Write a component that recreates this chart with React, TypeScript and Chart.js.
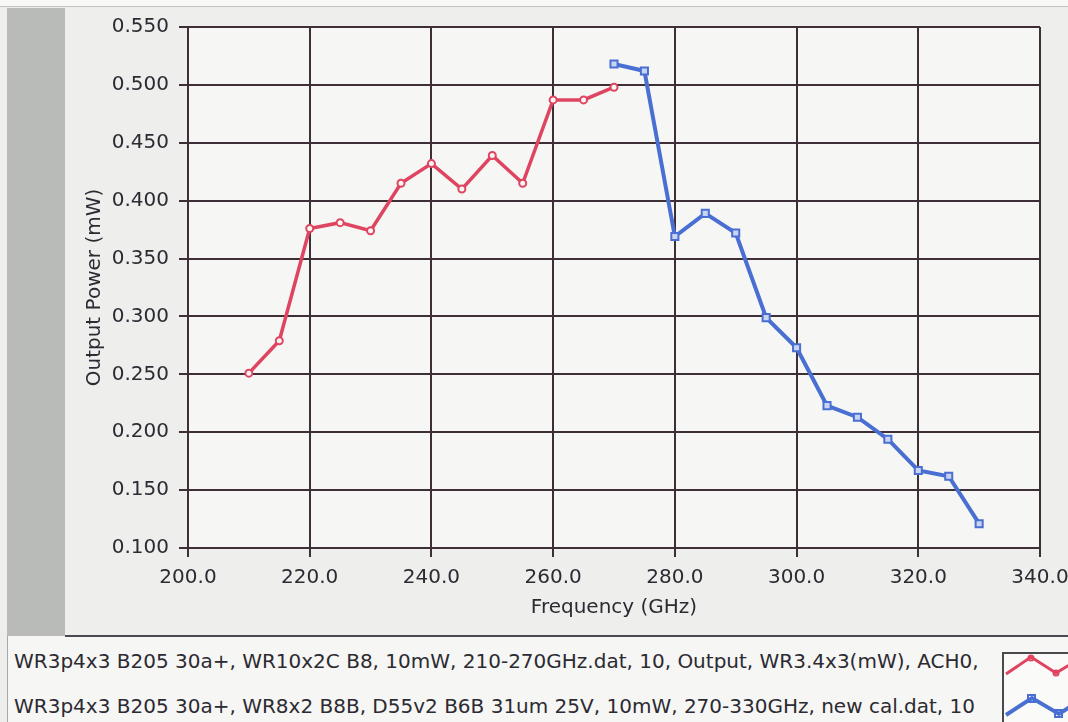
import React, { useEffect, useRef } from "react";
import { Chart, registerables } from "chart.js";

Chart.register(...registerables);

// ---- data ----
const redFreq = [210, 215, 220, 225, 230, 235, 240, 245, 250, 255, 260, 265, 270];
const redPower = [0.251, 0.279, 0.376, 0.381, 0.374, 0.415, 0.432, 0.41, 0.439, 0.415, 0.487, 0.487, 0.498];
const blueFreq = [270, 275, 280, 285, 290, 295, 300, 305, 310, 315, 320, 325, 330];
const bluePower = [0.518, 0.512, 0.369, 0.389, 0.372, 0.299, 0.273, 0.223, 0.213, 0.194, 0.167, 0.162, 0.121];

const xMin = 200;
const xMax = 340;
const xStep = 20;
const yMin = 0.1;
const yMax = 0.55;
const yStep = 0.05;

const xTitle = "Frequency (GHz)";
const yTitle = "Output Power (mW)";
const legendLabels = [
  "WR3p4x3 B205 30a+, WR10x2C B8, 10mW, 210-270GHz.dat, 10, Output, WR3.4x3(mW), ACH0,",
  "WR3p4x3 B205 30a+, WR8x2 B8B, D55v2 B6B 31um 25V, 10mW, 270-330GHz, new cal.dat, 10",
];

const RED = "#df4560";
const BLUE = "#4a6fd2";
const GRID = "#3e2f37";
const TEXT = "#2c2a32";
const FONT = "'DejaVu Sans', sans-serif";

const plotBg = {
  id: "plotBg",
  beforeDraw(chart: any) {
    const { ctx, chartArea } = chart;
    const { left, top, right, bottom } = chartArea;
    ctx.save();
    ctx.fillStyle = "#f6f6f4";
    ctx.fillRect(left, top, right - left, bottom - top);
    ctx.restore();
  },
};

export default function App() {
  const ref = useRef<HTMLCanvasElement | null>(null);

  useEffect(() => {
    if (!ref.current) return;
    const chart = new Chart(ref.current, {
      type: "line",
      data: {
        datasets: [
          {
            label: legendLabels[0],
            data: redFreq.map((x, i) => ({ x, y: redPower[i] })),
            borderColor: RED,
            backgroundColor: "#f6f6f4",
            borderWidth: 3.5,
            pointStyle: "circle",
            pointRadius: 3.5,
            pointBorderWidth: 2,
            pointBorderColor: RED,
            tension: 0,
          },
          {
            label: legendLabels[1],
            data: blueFreq.map((x, i) => ({ x, y: bluePower[i] })),
            borderColor: BLUE,
            backgroundColor: "#c9d4f2",
            borderWidth: 4,
            pointStyle: "rect",
            pointRadius: 5,
            pointBorderWidth: 2,
            pointBorderColor: BLUE,
            tension: 0,
          },
        ],
      },
      options: {
        animation: false,
        responsive: false,
        devicePixelRatio: 1,
        layout: { padding: { left: 65, top: 27, right: 28, bottom: 0 } },
        plugins: { legend: { display: false }, tooltip: { enabled: false } },
        scales: {
          x: {
            type: "linear",
            min: xMin,
            max: xMax,
            afterFit: (s: any) => {
              s.height = 87;
              s.paddingRight = 0;
              s.paddingLeft = 0;
            },
            ticks: {
              stepSize: xStep,
              callback: (v: any) => Number(v).toFixed(1),
              font: { family: FONT, size: 20 },
              color: TEXT,
              padding: 9,
              maxRotation: 0,
            },
            grid: { color: GRID, lineWidth: 2, tickLength: 9 },
            border: { display: true, color: GRID, width: 2 },
            title: {
              display: true,
              text: xTitle,
              font: { family: FONT, size: 20 },
              color: TEXT,
              padding: { top: 0, bottom: 15 },
            },
          },
          y: {
            type: "linear",
            min: yMin,
            max: yMax,
            afterFit: (s: any) => {
              s.width = 123;
            },
            ticks: {
              stepSize: yStep,
              callback: (v: any) => Number(v).toFixed(3),
              font: { family: FONT, size: 20 },
              color: TEXT,
              padding: 10,
            },
            grid: { color: GRID, lineWidth: 2, tickLength: 9 },
            border: { display: true, color: GRID, width: 2 },
            title: {
              display: true,
              text: yTitle,
              font: { family: FONT, size: 20 },
              color: TEXT,
              padding: { top: 18, bottom: 0 },
            },
          },
        },
      },
      plugins: [plotBg],
    });
    return () => chart.destroy();
  }, []);

  const legendTextStyle: React.CSSProperties = {
    position: "absolute",
    left: 14,
    fontFamily: FONT,
    fontSize: 20,
    lineHeight: "20px",
    color: TEXT,
    whiteSpace: "nowrap",
  };

  return (
    <div
      style={{
        position: "fixed",
        left: 0,
        top: 0,
        width: 1068,
        height: 722,
        background: "#eeeeec",
        overflow: "hidden",
      }}
    >
      <div style={{ position: "absolute", left: 0, top: 0, width: 1068, height: 6, background: "#f8f8f6" }} />
      <div style={{ position: "absolute", left: 0, top: 6, width: 1068, height: 1, background: "#c4c4c4" }} />
      <div style={{ position: "absolute", left: 7, top: 8, width: 58, height: 628, background: "#b8bbb7" }} />
      <canvas
        ref={ref}
        width={1068}
        height={635}
        style={{ position: "absolute", left: 0, top: 0, width: 1068, height: 635 }}
      />
      <div
        style={{
          position: "absolute",
          left: 7,
          top: 636,
          width: 1061,
          height: 86,
          background: "#f6f6f4",
          borderLeft: "1px solid #a8a8a8",
        }}
      />
      <div style={{ position: "absolute", left: 65, top: 635, width: 1003, height: 2, background: "#4a4a4e" }} />
      <div style={{ ...legendTextStyle, top: 651 }}>{legendLabels[0]}</div>
      <div style={{ ...legendTextStyle, top: 696 }}>{legendLabels[1]}</div>
      <div
        style={{
          position: "absolute",
          left: 1002,
          top: 652,
          width: 90,
          height: 90,
          background: "#fafaf8",
          border: "2px solid #4a4a4e",
        }}
      >
        <svg width={90} height={90} style={{ position: "absolute", left: 0, top: 0 }}>
          <polyline points="2,20 27,3 52,19 80,2" fill="none" stroke={RED} strokeWidth={3} />
          <circle cx={27} cy={4} r={2.5} fill="none" stroke={RED} strokeWidth={2} />
          <circle cx={52} cy={19} r={2.5} fill="none" stroke={RED} strokeWidth={2} />
          <polyline points="2,61 28,44 55,60 80,44" fill="none" stroke={BLUE} strokeWidth={4} />
          <rect x={24} y={41} width={7} height={7} fill="none" stroke={BLUE} strokeWidth={2} />
          <rect x={51} y={56} width={7} height={7} fill="none" stroke={BLUE} strokeWidth={2} />
        </svg>
      </div>
    </div>
  );
}
